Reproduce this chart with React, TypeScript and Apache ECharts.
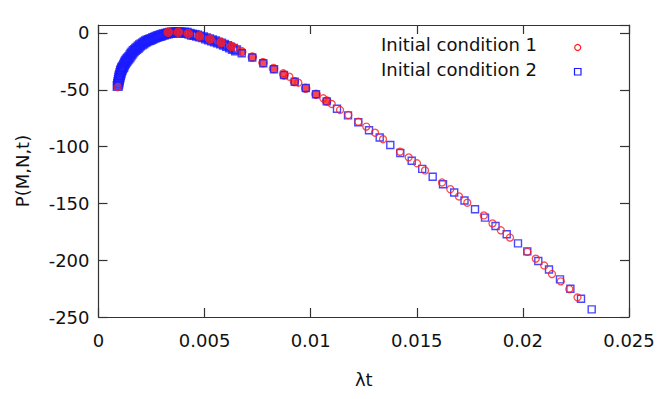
import React, { useEffect, useRef } from "react";
import * as echarts from "echarts";

// Condition 2 (blue squares): dense rising band
const blueDenseT = [0.000905, 0.000924, 0.000943, 0.000961, 0.00098, 0.000994, 0.001013, 0.001037, 0.00106, 0.001084, 0.001107, 0.001136, 0.001169, 0.001206, 0.001249, 0.001282, 0.00132, 0.001362, 0.001404, 0.001456, 0.001508, 0.001555, 0.001602, 0.001659, 0.00172, 0.001777, 0.001838, 0.001894, 0.001956, 0.002031, 0.002111, 0.002172, 0.002238, 0.002309, 0.00238, 0.002441, 0.002507, 0.002582, 0.002663, 0.002733, 0.002804, 0.002875, 0.002945, 0.003016, 0.003087, 0.003181, 0.003275, 0.003369, 0.003464, 0.003577, 0.003685, 0.003794, 0.003888, 0.004029, 0.004157, 0.004288, 0.004406, 0.004524, 0.004642, 0.004783, 0.004925, 0.005066, 0.005207, 0.005349, 0.00549, 0.005631, 0.005773, 0.005914, 0.006056, 0.006197, 0.006338, 0.00648];
const blueDenseP = [-46.7, -45.0, -43.2, -41.4, -39.7, -38.3, -37.0, -35.4, -33.9, -32.6, -31.3, -30.4, -29.7, -28.0, -26.5, -25.3, -24.3, -23.2, -22.3, -21.2, -19.8, -18.5, -17.2, -16.0, -15.0, -14.1, -13.2, -12.1, -11.0, -10.0, -9.1, -8.2, -7.5, -6.8, -6.2, -5.8, -5.3, -4.6, -4.0, -3.5, -2.9, -2.5, -2.1, -1.6, -1.2, -0.7, -0.3, 0.0, 0.3, 0.5, 0.6, 0.6, 0.4, 0.3, 0.0, -0.7, -1.4, -1.8, -2.4, -3.1, -3.8, -4.7, -5.6, -6.6, -7.5, -8.4, -9.3, -10.4, -11.5, -12.8, -14.1, -15.4];

// Condition 2 (blue squares): sparse part
const blueT = [0.006748, 0.007248, 0.007766, 0.008271, 0.008742, 0.009246, 0.009769, 0.01025, 0.010754, 0.011239, 0.011758, 0.012243, 0.012748, 0.013252, 0.013751, 0.014223, 0.01476, 0.015255, 0.015749, 0.016235, 0.016763, 0.017248, 0.017743, 0.018214, 0.018709, 0.019237, 0.019769, 0.020207, 0.020726, 0.02123, 0.021748, 0.022238, 0.022738, 0.023242];
const blueP = [-17.9, -21.6, -26.7, -32.0, -37.0, -42.9, -48.5, -53.9, -60.2, -66.7, -72.5, -78.6, -85.7, -92.0, -98.6, -105.7, -112.5, -119.6, -126.5, -133.1, -140.4, -147.5, -155.2, -162.5, -169.9, -177.2, -185.2, -192.2, -200.7, -208.2, -216.9, -225.1, -233.9, -243.3];

// Condition 1 (red circles): dense (solid-looking) part
const redDenseT = [0.003289, 0.003761, 0.004232, 0.00475, 0.005254, 0.005773, 0.006254, 0.006749, 0.007248, 0.007752, 0.008247, 0.008742, 0.009237, 0.009764, 0.01025, 0.010754];
const redDenseP = [0.6, 0.6, -0.7, -2.7, -5.4, -8.4, -11.8, -16.5, -21.2, -26.2, -31.3, -37.0, -42.9, -48.7, -54.0, -59.9];

// Condition 1 (red circles): sparse part
const redT = [0.000905, 0.006433, 0.008709, 0.008992, 0.009416, 0.010594, 0.01099, 0.011381, 0.011772, 0.012243, 0.01262, 0.01303, 0.013407, 0.014208, 0.014618, 0.015009, 0.015386, 0.016188, 0.016579, 0.016989, 0.01738, 0.018158, 0.018568, 0.018959, 0.019392, 0.020207, 0.020608, 0.021004, 0.021371, 0.021786, 0.022187, 0.022573];
const redP = [-47.6, -13.0, -35.5, -38.5, -43.8, -57.5, -62.5, -67.8, -72.2, -78.1, -82.4, -87.8, -93.5, -104.5, -109.5, -114.7, -121.0, -131.6, -137.5, -143.9, -149.4, -160.6, -167.6, -173.7, -180.1, -192.6, -198.6, -204.7, -212.2, -218.6, -225.4, -232.7];

const xTicks = { min: 0, max: 0.025, interval: 0.005 };
const yTicks = { min: -250, max: 7, interval: 50 };

const legendLabels = ["Initial condition 1", "Initial condition 2"];

const zip = (a: number[], b: number[]) => a.map((v, i) => [v, b[i]]);

const RED = "#ff1a1a";
const BLUE = "#1a1aff";
const FONT = "DejaVu Sans";

export default function App() {
  const ref = useRef<HTMLDivElement>(null);
  useEffect(() => {
    if (!ref.current) return;
    const chart = echarts.init(ref.current, null, { renderer: "svg" });
    const axisLine = { show: true, onZero: false, lineStyle: { color: "#333", width: 1.2 } };
    const tick = { show: true, inside: true, length: 9, lineStyle: { color: "#333", width: 1.2 } };
    chart.setOption({
      animation: false,
      backgroundColor: "#fff",
      grid: { left: 98.5, right: 35, top: 25, bottom: 82, containLabel: false },
      xAxis: [
        {
          type: "value", ...xTicks, position: "bottom",
          axisLine, axisTick: tick, splitLine: { show: false },
          axisLabel: { color: "#111", fontFamily: FONT, fontSize: 18, margin: 14 },
          name: "λt", nameLocation: "middle", nameGap: 53,
          nameTextStyle: { color: "#111", fontFamily: FONT, fontSize: 18 },
        },
        {
          type: "value", ...xTicks, position: "top",
          axisLine, axisTick: tick, splitLine: { show: false }, axisLabel: { show: false },
        },
      ],
      yAxis: [
        {
          type: "value", ...yTicks, position: "left",
          axisLine, axisTick: tick, splitLine: { show: false },
          axisLabel: { color: "#111", fontFamily: FONT, fontSize: 18, margin: 9, showMaxLabel: false },
          name: "P(M,N,t)", nameLocation: "middle", nameGap: 67,
          nameTextStyle: { color: "#111", fontFamily: FONT, fontSize: 18 },
        },
        {
          type: "value", ...yTicks, position: "right",
          axisLine, axisTick: tick, splitLine: { show: false }, axisLabel: { show: false },
        },
      ],
      series: [
        {
          type: "scatter", name: legendLabels[1], data: zip(blueDenseT, blueDenseP), z: 1,
          symbol: "rect", symbolSize: 8,
          itemStyle: { color: "rgba(0,0,0,0)", borderColor: BLUE, borderWidth: 2.2 },
        },
        {
          type: "scatter", name: legendLabels[0], data: zip(redDenseT, redDenseP), z: 2,
          symbol: "circle", symbolSize: 8.5,
          itemStyle: { color: RED, borderColor: RED, borderWidth: 1 },
        },
        {
          type: "scatter", name: legendLabels[1], data: zip(blueT, blueP), z: 3,
          symbol: "rect", symbolSize: 7,
          itemStyle: { color: "rgba(0,0,0,0)", borderColor: BLUE, borderWidth: 1.4 },
        },
        {
          type: "scatter", name: legendLabels[0], data: zip(redT, redP), z: 4,
          symbol: "circle", symbolSize: 7,
          itemStyle: { color: "rgba(0,0,0,0)", borderColor: RED, borderWidth: 1.3 },
        },
      ],
      graphic: [
        { type: "text", right: 127, top: 35, style: { text: legendLabels[0], fill: "#111", font: `18px '${FONT}'`, textAlign: "right" } },
        { type: "text", right: 127, top: 60, style: { text: legendLabels[1], fill: "#111", font: `18px '${FONT}'`, textAlign: "right" } },
        { type: "circle", shape: { cx: 577.7, cy: 47.5, r: 3 }, style: { fill: "none", stroke: RED, lineWidth: 1.2 } },
        { type: "rect", shape: { x: 574.5, y: 68.5, width: 6.5, height: 6.5 }, style: { fill: "none", stroke: BLUE, lineWidth: 1.2 } },
      ],
    });
    return () => chart.dispose();
  }, []);
  return (
    <div
      ref={ref}
      style={{ position: "fixed", left: 0, top: 0, width: 664, height: 399, background: "#fff" }}
    />
  );
}
